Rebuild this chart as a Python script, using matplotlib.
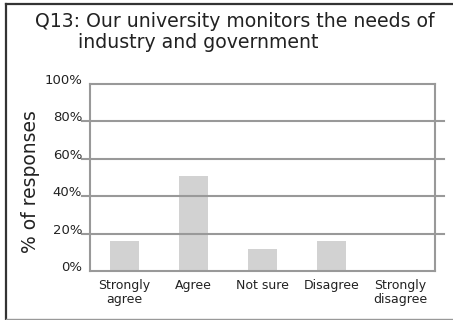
import matplotlib
matplotlib.use("Agg")
import matplotlib.pyplot as plt
from matplotlib.lines import Line2D
from matplotlib.transforms import blended_transform_factory

categories = ["Strongly\nagree", "Agree", "Not sure", "Disagree", "Strongly\ndisagree"]
responses = [16, 51, 12, 16, 0]
y_ticks = [0, 20, 40, 60, 80, 100]
y_tick_labels = ["0%", "20%", "40%", "60%", "80%", "100%"]

W, H = 453, 320
GRID = "#999999"
BAR = "#d2d2d2"

fig = plt.figure(figsize=(W / 100, H / 100), dpi=100)
fig.patch.set_facecolor("white")

# plot area in pixels: x 90..435, y 84..271
ax = fig.add_axes([90 / W, 1 - 271 / H, 345 / W, 187 / H])
x = range(len(categories))
ax.bar(x, responses, width=0.43, color=BAR, zorder=1)
ax.set_xlim(-0.5, len(categories) - 0.5)
ax.set_ylim(0, 100)

for side in ["left", "right", "top", "bottom"]:
    ax.spines[side].set_color(GRID)
    ax.spines[side].set_linewidth(1.5)

# inner gridlines poke out a little past both sides of the frame
ext_l = 8 / 345
ext_r = 9 / 345
for v in y_ticks[1:-1]:
    ax.axhline(v, xmin=-ext_l, xmax=1 + ext_r, color=GRID, lw=1.5,
               clip_on=False, zorder=2)

ax.set_yticks([])
ax.set_xticks(list(x))
ax.set_xticklabels(categories, fontsize=9, color="#222222", linespacing=1.1)
ax.tick_params(axis="x", length=0, pad=6)

trans = blended_transform_factory(ax.transAxes, ax.transData)
for v, lab in zip(y_ticks, y_tick_labels):
    ax.text(-ext_l, v, lab, transform=trans, ha="right", va="baseline",
            fontsize=9.5, color="#222222")

fig.text(30 / W, 1 - 182 / H, "% of responses", rotation=90, ha="center",
         va="center", fontsize=13.5, color="#222222")

fig.text(35 / W, 1 - 27 / H, "Q13: Our university monitors the needs of",
         ha="left", va="baseline", fontsize=13.6, color="#222222")
fig.text(78 / W, 1 - 48 / H, "industry and government",
         ha="left", va="baseline", fontsize=13.6, color="#222222")

# outer frame: dark left/top, light bottom
fig.add_artist(Line2D([6 / W, 6 / W], [0, 1 - 4 / H], color="#333333", lw=1.6))
fig.add_artist(Line2D([6 / W, 1], [1 - 4 / H, 1 - 4 / H], color="#333333", lw=1.6))
fig.add_artist(Line2D([6 / W, 1], [1 - 318.5 / H, 1 - 318.5 / H], color="#999999", lw=1.0))

fig.savefig("out.png", dpi=100)
